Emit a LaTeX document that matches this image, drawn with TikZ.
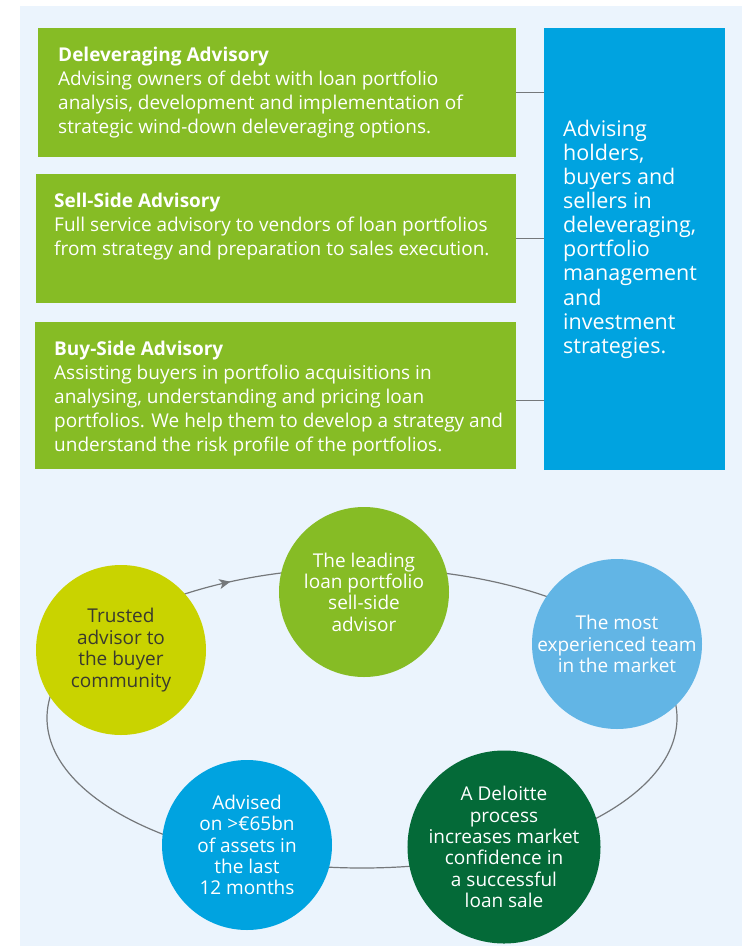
\documentclass[tikz,border=0pt]{standalone}
\usepackage{fontspec}
\setmainfont{Open Sans}
\usetikzlibrary{positioning, arrows.meta, decorations.markings}

\definecolor{panelbg}{HTML}{EBF4FD}
\definecolor{advgreen}{HTML}{86BC25}
\definecolor{advblue}{HTML}{00A3E0}
\definecolor{skyblue}{HTML}{62B5E5}
\definecolor{darkgreen}{HTML}{046A38}
\definecolor{limegreen}{HTML}{C9D300}
\definecolor{ringgray}{HTML}{75787B}
\definecolor{darktext}{HTML}{3A3A2E}

\begin{document}
\begin{tikzpicture}[x=1pt, y=-1pt,
  box/.style={fill=advgreen, inner sep=0pt, anchor=north west},
  boxtext/.style={text=white, align=left, inner sep=0pt,
    font=\fontsize{19}{24}\selectfont},
  bubble/.style={circle, minimum size=170pt, inner sep=0pt, align=center,
    text=white, font=\fontsize{19}{21.4}\selectfont},
  link/.style={draw=ringgray, line width=1.2pt}
]

\useasboundingbox (0,0) rectangle (753,950);
\fill[panelbg] (20,6) rectangle (742,946);

% ======================
% Advisory services
% ======================
\node[box, minimum width=478pt, minimum height=129pt] (dlv) at (38,28) {};
\node[box, minimum width=480pt, minimum height=129pt] (sell) at (36,174) {};
\node[box, minimum width=481pt, minimum height=147pt] (buy) at (35,322) {};

\node[box, fill=advblue, minimum width=181pt, minimum height=442pt] (adv) at (544,28) {};

\node[boxtext, below right=19pt and 20pt of dlv.north west] (dlvtxt)
{\textbf{Deleveraging Advisory}\\
Advising owners of debt with loan portfolio\\
analysis, development and implementation of\\
strategic wind-down deleveraging options.};

\node[boxtext, below right=19pt and 18pt of sell.north west] (selltxt)
{\textbf{Sell-Side Advisory}\\
Full service advisory to vendors of loan portfolios\\
from strategy and preparation to sales execution.};

\node[boxtext, below right=19pt and 19pt of buy.north west] (buytxt)
{\textbf{Buy-Side Advisory}\\
Assisting buyers in portfolio acquisitions in\\
analysing, understanding and pricing loan\\
portfolios. We help them to develop a strategy and\\
understand the risk profile of the portfolios.};

\node[boxtext, font=\fontsize{21.5}{24.1}\selectfont,
  right=19pt of adv.west, yshift=10pt] (advtxt)
{Advising\\ holders,\\ buyers and\\ sellers in\\ deleveraging,\\
portfolio\\ management\\ and\\ investment\\ strategies.};

\draw[link] (dlv.east) -- (dlv.east -| adv.west);
\draw[link] (sell.east) -- (sell.east -| adv.west);
\draw[link] ([yshift=-5pt]buy.east) -- ([yshift=-5pt]buy.east -| adv.west);

% ======================
% Cycle of strengths
% ======================
\draw[link, postaction={decorate, decoration={markings,
  mark=at position 0.338 with {\arrowreversed{Stealth[length=11pt, width=10pt, inset=3pt]}}}}]
  (362,718) ellipse [x radius=315pt, y radius=150pt];

\node[bubble, fill=advgreen] (lead) at (364,592)
{The leading\\ loan portfolio\\ sell-side\\ advisor};
\node[bubble, fill=skyblue] (team) at (617,644)
{The most\\ experienced team\\ in the market};
\node[bubble, fill=darkgreen] (proc) at (504,847)
{A Deloitte\\ process\\ increases market\\ confidence in\\ a successful\\ loan sale};
\node[bubble, fill=advblue] (asset) at (247,845)
{Advised\\ on >€65bn\\ of assets in\\ the last\\ 12 months};
\node[bubble, fill=limegreen, text=darktext] (trust) at (121,650)
{Trusted\\ advisor to\\ the buyer\\ community};

\end{tikzpicture}
\end{document}
